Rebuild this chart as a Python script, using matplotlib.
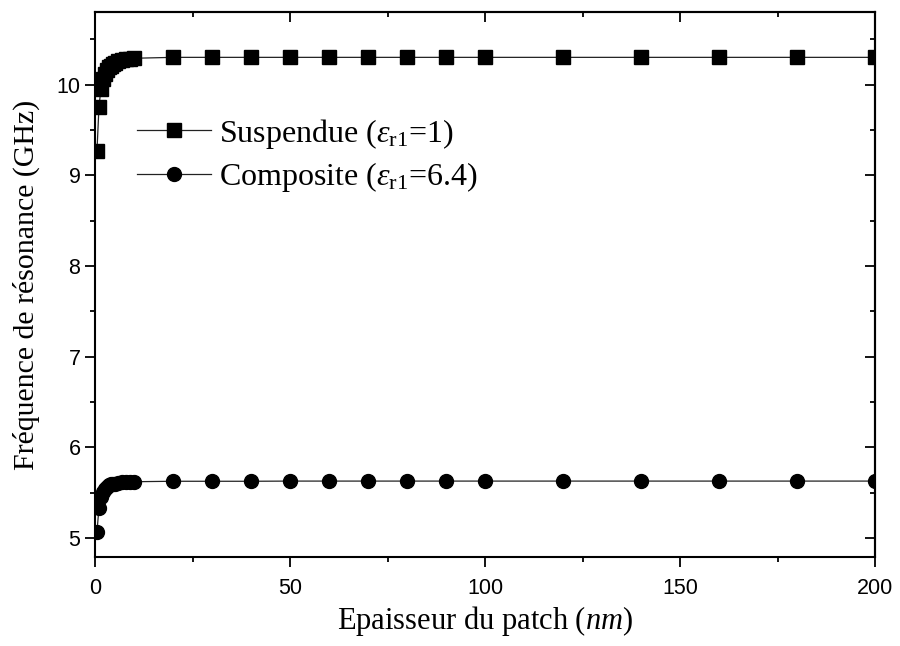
import numpy as np
import matplotlib.pyplot as plt

plt.rcParams['mathtext.fontset'] = 'custom'
plt.rcParams['mathtext.rm'] = 'Liberation Serif'
plt.rcParams['mathtext.it'] = 'Liberation Serif:italic'

# épaisseur du patch (nm)
epaisseur = [0.5, 1, 1.5, 2, 2.5, 3, 3.5, 4, 4.5, 5, 6, 7, 8, 9, 10,
             20, 30, 40, 50, 60, 70, 80, 90, 100, 120, 140, 160, 180, 200]
# fréquence de résonance (GHz)
f_suspendue = [9.27, 9.75, 9.95, 10.06, 10.12, 10.16, 10.19, 10.21, 10.23, 10.24,
               10.26, 10.27, 10.28, 10.285, 10.29,
               10.30, 10.30, 10.30, 10.30, 10.30, 10.30, 10.30, 10.30, 10.30,
               10.30, 10.30, 10.30, 10.30, 10.30]
f_composite = [5.07, 5.33, 5.45, 5.51, 5.545, 5.565, 5.58, 5.59, 5.595, 5.60,
               5.61, 5.615, 5.617, 5.62, 5.62,
               5.625, 5.625, 5.625, 5.627, 5.627, 5.627, 5.627, 5.627, 5.627,
               5.627, 5.627, 5.627, 5.627, 5.627]

fig = plt.figure(figsize=(9, 6.46), dpi=100)
ax = fig.add_axes([0.1056, 0.1378, 0.8667, 0.8436])

ax.plot(epaisseur, f_suspendue, color='#222222', lw=0.9, marker='s', ms=9.5,
        mfc='black', mec='black', label=r'Suspendue ($\mathit{\varepsilon}_{\mathrm{r1}}$=1)')
ax.plot(epaisseur, f_composite, color='#222222', lw=0.9, marker='o', ms=10,
        mfc='black', mec='black', label=r'Composite ($\mathit{\varepsilon}_{\mathrm{r1}}$=6.4)')

ax.set_xlim(0, 200)
ax.set_ylim(4.79, 10.8)
ax.set_xticks([0, 50, 100, 150, 200])
ax.set_xticks([25, 75, 125, 175], minor=True)
ax.set_yticks([5, 6, 7, 8, 9, 10])
ax.set_yticks([5.5, 6.5, 7.5, 8.5, 9.5, 10.5], minor=True)

for s in ax.spines.values():
    s.set_linewidth(1.5)

ax.tick_params(which='both', direction='out', width=1.3, labelsize=15.5,
               top=False, right=False)
ax.tick_params(which='major', length=7)
ax.tick_params(which='minor', length=3.5)
ax.tick_params(axis='both', labelfontfamily='Liberation Sans')
ax.tick_params(axis='x', pad=8)

# ticks internes en haut et à droite
axt = ax.secondary_xaxis('top')
axt.set_xticks([0, 50, 100, 150, 200])
axt.set_xticks([25, 75, 125, 175], minor=True)
axt.tick_params(which='both', direction='in', width=1.3, labeltop=False)
axt.tick_params(which='major', length=7)
axt.tick_params(which='minor', length=3.5)
axr = ax.secondary_yaxis('right')
axr.set_yticks([5, 6, 7, 8, 9, 10])
axr.set_yticks([5.5, 6.5, 7.5, 8.5, 9.5, 10.5], minor=True)
axr.tick_params(which='both', direction='in', width=1.3, labelright=False)
axr.tick_params(which='major', length=7)
axr.tick_params(which='minor', length=3.5)
for a in (axt, axr):
    for s in a.spines.values():
        s.set_linewidth(1.5)

ax.set_xlabel(r'Epaisseur du patch ($\mathit{nm}$)', fontsize=22,
              fontfamily='Liberation Serif', labelpad=4)
ax.set_ylabel('Fréquence de résonance (GHz)', fontsize=21.5,
              fontfamily='Liberation Serif', labelpad=12)

ax.legend(loc='upper left', bbox_to_anchor=(0.054, 0.808), frameon=False,
          prop={'family': 'Liberation Serif', 'size': 23}, borderpad=0,
          borderaxespad=0, handlelength=2.3, handletextpad=0.26, labelspacing=0.3)

fig.savefig('out.png', dpi=100)
